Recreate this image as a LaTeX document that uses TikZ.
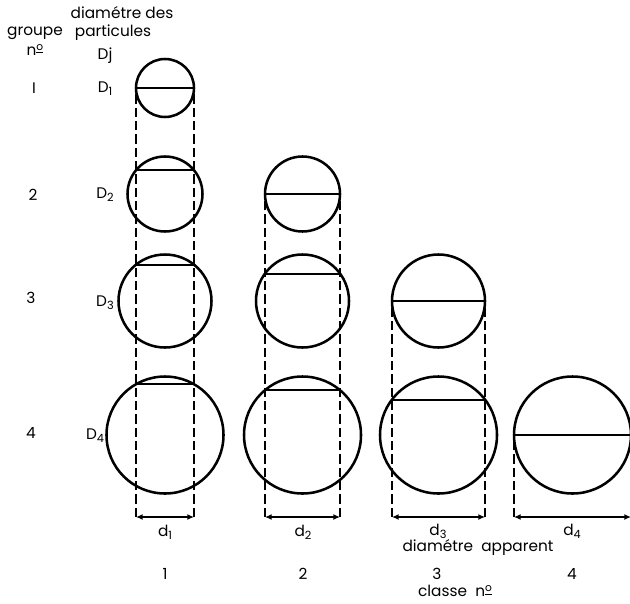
\documentclass[tikz,border=0pt]{standalone}
\usepackage{fontspec}
\setmainfont{Poppins}
\usetikzlibrary{arrows.meta}
\newcommand{\sbs}[1]{\raisebox{-0.35ex}{\fontsize{8.5}{9}\selectfont #1}}
\newcommand{\numo}{n\raisebox{0.55ex}{\fontsize{8}{9}\selectfont\underline{o}}}
\begin{document}
\begin{tikzpicture}[x=0.75pt,y=-0.75pt,
  circ/.style={line width=1.9pt},
  chord/.style={line width=1.1pt},
  projline/.style={line width=1.2pt, dash pattern=on 7pt off 3pt},
  dimarrow/.style={line width=1.1pt, {Latex[length=5pt,width=4.5pt]}-{Latex[length=5pt,width=4.5pt]}},
  lbl/.style={font=\fontsize{11.5}{13}\selectfont, inner sep=0pt}]
\useasboundingbox (0,0) rectangle (630,603);
\def\ybot{517}
\foreach \i in {1,...,4}{
  \pgfmathsetmacro\cx{{165,302.5,438.5,572.5}[\i-1]}
  \pgfmathsetmacro\ri{{29,37.5,46.5,58.5}[\i-1]}
  \pgfmathsetmacro\cyi{{88,194,301,435}[\i-1]}
  \foreach \j in {\i,...,4}{
    \pgfmathsetmacro\rj{{29,37.5,46.5,58.5}[\j-1]}
    \pgfmathsetmacro\cyj{{88,194,301,435}[\j-1]}
    \pgfmathsetmacro\rr{\rj*0.75}
    \pgfmathsetmacro\chy{round(\cyj - sqrt(\rj*\rj - \ri*\ri))}
    \coordinate (c\i\j) at (\cx,\cyj);
    \draw[circ] (c\i\j) circle [radius=\rr pt];
    \coordinate (ch\i\j a) at (\cx-\ri,\chy);
    \coordinate (ch\i\j b) at (\cx+\ri,\chy);
    \draw[chord] (ch\i\j a) -- (ch\i\j b);
  }
  \coordinate (bl\i) at (\cx-\ri,\ybot);
  \coordinate (br\i) at (\cx+\ri,\ybot);
  \draw[projline] (bl\i) -- (\cx-\ri,\cyi);
  \ifnum\i<4
    \draw[projline] (br\i) -- (\cx+\ri,\cyi);
  \fi
  \draw[dimarrow] (bl\i) -- (br\i);
}
% left labels
\node[lbl] (hdA) at (122,13) {diamétre des};
\node[lbl] (hdB) at (113,33) {particules};
\node[lbl] (grp) at (35,33) {groupe};
\node[lbl] (grpn) at (35,50) {\numo};
\node[lbl] (dj) at (105,56) {Dj};
\node[lbl] (g1) at (34,88) {I};
\node[lbl] (g2) at (33,195) {2};
\node[lbl] (g3) at (31,298) {3};
\node[lbl] (g4) at (31,433) {4};
\node[lbl] (D1) at (105,89) {D\sbs{1}};
\node[lbl] (D2) at (105,195) {D\sbs{2}};
\node[lbl] (D3) at (105,303) {D\sbs{3}};
\node[lbl] (D4) at (95,436) {D\sbs{4}};
% bottom labels
\node[lbl] (d1) at (165,532) {d\sbs{1}};
\node[lbl] (d2) at (303,532) {d\sbs{2}};
\node[lbl] (d3) at (438,531) {d\sbs{3}};
\node[lbl] (d4) at (572,531) {d\sbs{4}};
\node[lbl] (app) at (478,547) {diamétre\ \ apparent};
\node[lbl] (k1) at (165,574) {1};
\node[lbl] (k2) at (303,574) {2};
\node[lbl] (k3) at (437,574) {3};
\node[lbl] (k4) at (572,574) {4};
\node[lbl] (cls) at (455,591) {classe\ \ \numo};
\end{tikzpicture}
\end{document}
